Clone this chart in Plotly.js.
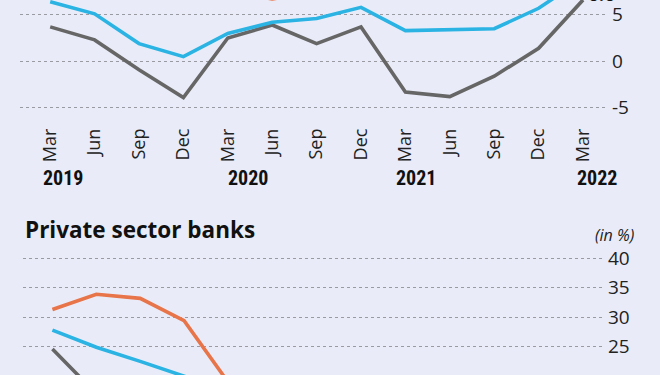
<!DOCTYPE html>
<html>
<head>
<meta charset="utf-8">
<script src="https://cdn.plot.ly/plotly-3.0.1.min.js"></script>
<style>
  html, body { margin: 0; padding: 0; background: #e9ecf8; }
  #chart { width: 660px; height: 375px; }
</style>
</head>
<body>
<div id="chart"></div>
<script>
// Quarter labels (Mar 2019 .. Mar 2022)
const months = ['Mar','Jun','Sep','Dec','Mar','Jun','Sep','Dec','Mar','Jun','Sep','Dec','Mar'];
const years = ['2019','2020','2021','2022'];
const yearIdx = [0, 4, 8, 12];

// Upper panel (partly cropped), values in %
const topBlue   = [6.4, 5.1, 1.9, 0.5, 3.0, 4.2, 4.6, 5.8, 3.3, 3.4, 3.5, 5.7, 8.9];
const topGray   = [3.7, 2.3, -0.9, -3.9, 2.5, 3.9, 1.9, 3.7, -3.3, -3.8, -1.6, 1.4, 6.6];
const topOrange = [11.5, 10.8, 9.6, 8.4, 7.6, 6.7, 7.5, 8.2, 9.5, 10.2, 11.0, 12.4, 13.5];

// Private sector banks panel (partly cropped), values in %
const pvtOrange = [31.3, 33.9, 33.2, 29.4, 19.0, 17.0, 16.0, 15.0, 14.0, 14.0, 15.0, 16.0, 17.0];
const pvtBlue   = [27.8, 24.9, 22.5, 20.0, 17.0, 15.0, 14.0, 13.0, 12.0, 12.0, 13.0, 14.0, 15.0];
const pvtGray   = [24.6, 17.0, 12.0, 8.0, 6.0, 5.0, 5.0, 4.0, 4.0, 5.0, 6.0, 7.0, 8.0];

const topTicks = [-5, 0, 5];
const pvtTicks = [25, 30, 35, 40];
const lastLabel = '6.6';

const idx = months.map((_, i) => i);
const C_BLUE = '#2ab3e3', C_GRAY = '#666666', C_ORANGE = '#e8744a';
const BG = '#e9ecf8';
const W = 660, H = 375;

function line(y, color, xa, ya, name) {
  return { x: idx, y: y, type: 'scatter', mode: 'lines', name: name,
           xaxis: xa, yaxis: ya, line: { color: color, width: 3.6 },
           hoverinfo: 'skip', showlegend: false };
}

const data = [
  line(topOrange, C_ORANGE, 'x', 'y', 'top orange'),
  line(topGray, C_GRAY, 'x', 'y', 'top gray'),
  line(topBlue, C_BLUE, 'x', 'y', 'top blue'),
  line(pvtOrange, C_ORANGE, 'x2', 'y2', 'pvt orange'),
  line(pvtGray, C_GRAY, 'x2', 'y2', 'pvt gray'),
  line(pvtBlue, C_BLUE, 'x2', 'y2', 'pvt blue')
];

const tickFont = { family: 'Open Sans, Noto Sans, sans-serif', size: 19, color: '#222' };
const gridStyle = { showgrid: true, gridcolor: '#9a9aa2', griddash: 'dot', gridwidth: 1,
                    zeroline: false, showline: false, ticks: '' };

const layout = {
  width: W, height: H,
  margin: { l: 0, r: 0, t: 0, b: 0 },
  paper_bgcolor: BG, plot_bgcolor: BG,
  showlegend: false,
  xaxis: {
    domain: [20 / W, 607 / W], range: [-0.68, 12.54],
    tickmode: 'array', tickvals: idx, ticktext: months, tickangle: -90,
    tickfont: { family: 'Open Sans, Noto Sans, sans-serif', size: 18, color: '#222' },
    ticklabelstandoff: 6,
    showgrid: false, zeroline: false, showline: false, ticks: '',
    anchor: 'y', fixedrange: true
  },
  yaxis: Object.assign({
    domain: [1 - 118 / H, 1], range: [-6.10, 6.59], side: 'right', anchor: 'x',
    tickmode: 'array', tickvals: topTicks, ticktext: topTicks.map(String),
    tickfont: tickFont, ticklabelstandoff: 4, fixedrange: true
  }, gridStyle),
  xaxis2: {
    domain: [23 / W, 602 / W], range: [-0.67, 12.52],
    showticklabels: false, showgrid: false, zeroline: false, showline: false, ticks: '',
    anchor: 'y2', fixedrange: true
  },
  yaxis2: Object.assign({
    domain: [0, 1 - 250 / H], range: [20.19, 41.41], side: 'right', anchor: 'x2',
    tickmode: 'array', tickvals: pvtTicks, ticktext: pvtTicks.map(String),
    tickfont: tickFont, ticklabelstandoff: 5, fixedrange: true
  }, gridStyle),
  annotations: [
    { xref: 'x', yref: 'paper', x: 12, y: 1, xanchor: 'left', yanchor: 'bottom',
      xshift: 3, yshift: -9, text: '<b>' + lastLabel + '</b>', showarrow: false,
      font: { family: 'Open Sans, sans-serif', size: 19, color: '#111' } },
    { xref: 'paper', yref: 'paper', x: 23 / W, y: 1 - 229 / H, xanchor: 'left', yanchor: 'middle',
      text: '<b>Private sector banks</b>', showarrow: false,
      font: { family: 'Open Sans, Noto Sans, sans-serif', size: 22.5, color: '#111' } },
    { xref: 'paper', yref: 'paper', x: 636 / W, y: 1 - 235 / H, xanchor: 'right', yanchor: 'middle',
      text: '<i>(in %)</i>', showarrow: false,
      font: { family: 'Open Sans, Noto Sans, sans-serif', size: 16, color: '#222' } }
  ].concat(years.map((yr, k) => ({
      xref: 'x', yref: 'paper', x: yearIdx[k], y: 1 - 177.5 / H,
      xanchor: 'center', yanchor: 'middle', xshift: [13, 20, 11, 14][k],
      text: '<b>' + yr + '</b>', showarrow: false,
      font: { family: 'Roboto Condensed, Liberation Sans Narrow, Roboto, sans-serif', size: 20, color: '#111' }
  })))
};

Plotly.newPlot('chart', data, layout, { displayModeBar: false, staticPlot: true });
</script>
</body>
</html>
